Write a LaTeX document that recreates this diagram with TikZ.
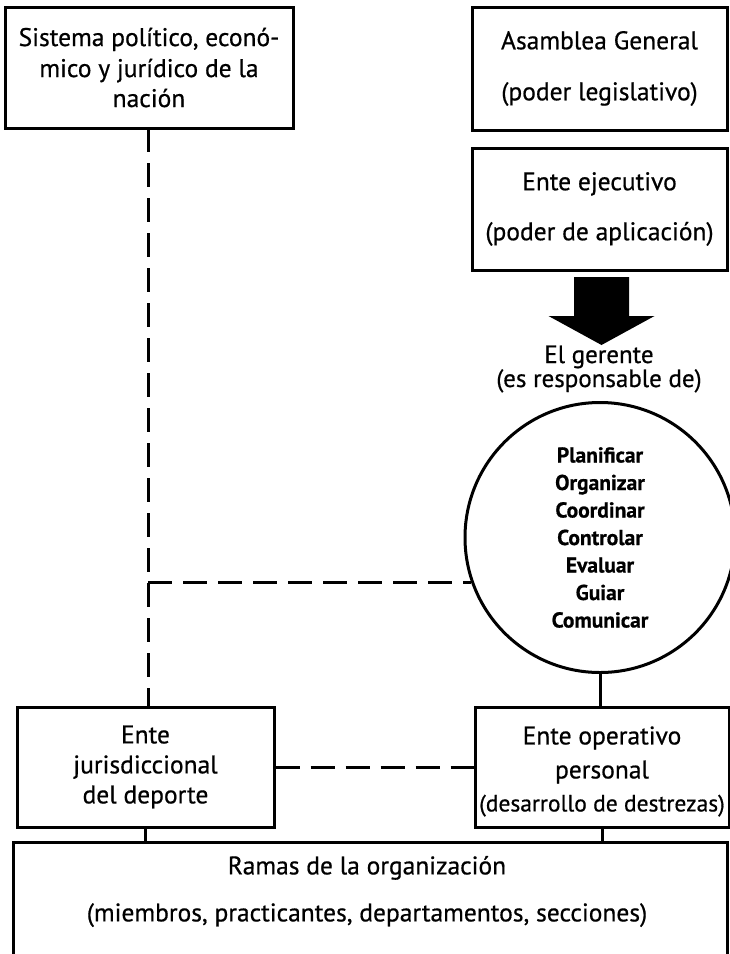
\documentclass[tikz,border=0pt]{standalone}
\usepackage{fontspec}
\setmainfont[FakeBold=0.6]{PT Sans}
\usetikzlibrary{calc}
\begin{document}
\begin{tikzpicture}[x=1pt,y=-1pt,
  box/.style={draw, line width=3pt, rectangle, inner sep=0pt, align=center,
    font=\fontsize{25.5}{30}\selectfont},
  txt/.style={inner sep=0pt, align=center, font=\fontsize{25.5}{30}\selectfont},
  dashline/.style={line width=3pt, dash pattern=on 24pt off 11pt},
  solidline/.style={line width=3pt},
]
\useasboundingbox (0,0) rectangle (730,954);
\clip (0,0) rectangle (730,954);

\node[box, minimum width=288pt, minimum height=121pt] (sis) at (149,67.5)
  {Sistema político, econó-\\[1pt]mico y jurídico de la\\nación};
\node[box, minimum width=255pt, minimum height=123pt] (asam) at (599.5,68.5)
  {Asamblea General\\[21pt](poder legislativo)};
\node[box, minimum width=255pt, minimum height=122pt] (ejec) at (599.5,209)
  {Ente ejecutivo\\[20pt](poder de aplicación)};

\coordinate (arrtop) at (601.5,277);
\fill (arrtop) ++(-27.5,0) -- ++(55,0) -- ++(0,39) -- ++(25.5,0)
  -- (601.5,345) -- (548.5,316) -- (574,316) -- cycle;

\node[txt, font=\fontsize{25}{24}\selectfont] (ger) at (599,369)
  {El gerente\\(es responsable de)};

\node[draw, circle, line width=3pt, minimum size=270pt, inner sep=0pt, align=center,
  font=\bfseries\fontsize{21.5}{27.5}\selectfont] (circ) at (600,537.5)
  {Planificar\\Organizar\\Coordinar\\Controlar\\Evaluar\\Guiar\\Comunicar};

\node[box, minimum width=257pt, minimum height=120pt] (jur) at (145.5,767)
  {Ente\\jurisdiccional\\del deporte};
\node[box, minimum width=254pt, minimum height=120pt,
  font=\fontsize{23.5}{30}\selectfont] (oper) at (602,767)
  {\rule{0pt}{27pt}\fontsize{25.5}{30}\selectfont Ente operativo\\[4pt]\fontsize{25.5}{30}\selectfont personal\\[3pt](desarrollo de destrezas)};

\node[box, minimum width=714pt, minimum height=128pt] (ramas) at (370,906) {};
\node[txt] (ramastxt) at (367,891.5)
  {Ramas de la organización\\[17pt](miembros, practicantes, departamentos, secciones)};

% connectors
\coordinate (vx) at (148,128);
\draw[dashline] (vx) -- (vx |- jur.north);
\coordinate (hj) at (148,582);
\draw[dashline] (hj) -- (hj -| circ.199.5);
\draw[solidline] (circ.south) -- (circ.south |- oper.north);
\draw[dashline] (jur.east) -- (oper.west);
\draw[solidline] (jur.south) -- (jur.south |- ramas.north);
\draw[solidline] (oper.south) -- (oper.south |- ramas.north);
\end{tikzpicture}
\end{document}
